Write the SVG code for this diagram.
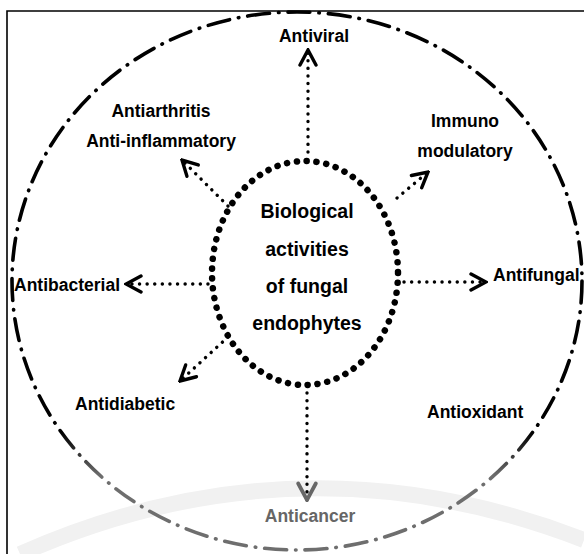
<svg xmlns="http://www.w3.org/2000/svg" width="584" height="554" viewBox="0 0 584 554">
  <style>
    .lbl { font-family: "Liberation Sans", Arial, sans-serif; font-weight: bold; font-size: 17.5px; fill: #000; }
    .ctr { font-family: "Liberation Sans", Arial, sans-serif; font-weight: bold; font-size: 19.5px; fill: #000; text-anchor: middle; }
    .dots { fill: none; stroke: #000; stroke-width: 3.4; stroke-linecap: round; stroke-dasharray: 0.1 7.5; }
    .head { fill: none; stroke: #000; stroke-width: 3.4; stroke-linejoin: miter; stroke-linecap: round; }
  </style>
  <defs>
    <linearGradient id="fade" gradientUnits="userSpaceOnUse" x1="0" y1="0" x2="0" y2="554">
      <stop offset="0" stop-color="#000"/>
      <stop offset="0.78" stop-color="#000"/>
      <stop offset="0.86" stop-color="#6e6e6e"/>
      <stop offset="1" stop-color="#6e6e6e"/>
    </linearGradient>
    <marker id="arr" viewBox="0 0 20 20" refX="18" refY="10" markerWidth="20" markerHeight="20" markerUnits="userSpaceOnUse" orient="auto">
      <path class="head" d="M3,2 L18,10 L3,18"/>
    </marker>
    <marker id="arrg" viewBox="0 0 20 20" refX="18" refY="10" markerWidth="22" markerHeight="22" markerUnits="userSpaceOnUse" orient="auto">
      <path class="head" style="stroke:#666" d="M3,2 L18,10 L3,18"/>
    </marker>
  </defs>

  <rect width="584" height="554" fill="#fff"/>
  <!-- frame -->
  <path d="M7,554 L7,11 L584,11" fill="none" stroke="#000" stroke-width="1.6"/>
  <!-- faint watermark arc -->
  <path d="M20,554 Q300,430 584,540" fill="none" stroke="#f1f1f1" stroke-width="16"/>

  <!-- outer dash-dot ellipse -->
  <ellipse id="outer" cx="297" cy="281" rx="285" ry="269" fill="none" stroke="url(#fade)" stroke-width="3.6" stroke-linecap="round" stroke-dasharray="22 9 0.5 9"/>

  <g id="connectors">
    <line class="dots" x1="308" y1="152" x2="308" y2="50" marker-end="url(#arr)"/>
    <line class="dots" x1="307" y1="393" x2="307" y2="500" marker-end="url(#arrg)"/>
    <line class="dots" x1="208" y1="284" x2="126" y2="284" marker-end="url(#arr)"/>
    <line class="dots" x1="404" y1="282" x2="486" y2="282" marker-end="url(#arr)"/>
    <line class="dots" x1="228" y1="206" x2="182" y2="160" marker-end="url(#arr)"/>
    <line class="dots" x1="397" y1="198" x2="428" y2="172" marker-end="url(#arr)"/>
    <line class="dots" x1="228" y1="337" x2="180" y2="381" marker-end="url(#arr)"/>
  </g>

  <g id="center">
    <ellipse cx="305" cy="273" rx="93" ry="112" fill="none" stroke="#000" stroke-width="6.5" stroke-linecap="round" stroke-dasharray="0.1 9.8"/>
    <text class="ctr" x="307" y="218">Biological</text>
    <text class="ctr" x="307" y="256">activities</text>
    <text class="ctr" x="307" y="293">of fungal</text>
    <text class="ctr" x="307" y="330">endophytes</text>
  </g>

  <g id="antiviral"><text class="lbl" x="314" y="42" text-anchor="middle">Antiviral</text></g>
  <g id="antiarthritis">
    <text class="lbl" x="161" y="117" text-anchor="middle">Antiarthritis</text>
    <text class="lbl" x="161" y="147" text-anchor="middle">Anti-inflammatory</text>
  </g>
  <g id="immuno">
    <text class="lbl" x="465" y="127" text-anchor="middle">Immuno</text>
    <text class="lbl" x="465" y="157" text-anchor="middle">modulatory</text>
  </g>
  <g id="antibacterial"><text class="lbl" x="14" y="291">Antibacterial</text></g>
  <g id="antifungal"><text class="lbl" x="493" y="281">Antifungal</text></g>
  <g id="antidiabetic"><text class="lbl" x="75" y="410">Antidiabetic</text></g>
  <g id="antioxidant"><text class="lbl" x="427" y="418">Antioxidant</text></g>
  <g id="anticancer"><text class="lbl" x="310" y="522" text-anchor="middle" style="fill:#666">Anticancer</text></g>
</svg>
